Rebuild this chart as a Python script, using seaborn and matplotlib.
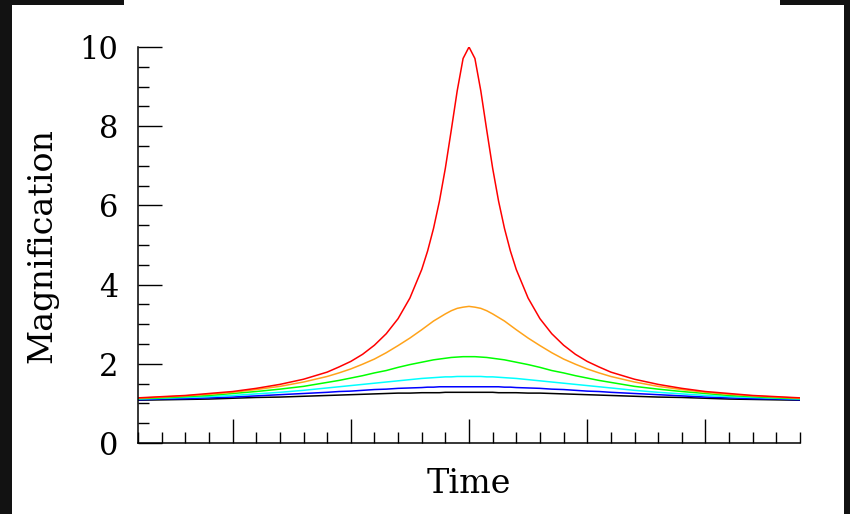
import pandas as pd
import matplotlib
matplotlib.use("Agg")
import matplotlib.pyplot as plt
from matplotlib.patches import Rectangle
from matplotlib.ticker import MultipleLocator
import seaborn as sns

# =========================
# Data
# =========================
time = [-14, -13, -12, -11, -10, -9, -8, -7, -6, -5.5, -5, -4.5, -4, -3.5, -3, -2.5,
        -2, -1.75, -1.5, -1.25, -1, -0.75, -0.5, -0.25, 0, 0.25, 0.5, 0.75, 1, 1.25,
        1.5, 1.75, 2, 2.5, 3, 3.5, 4, 4.5, 5, 5.5, 6, 7, 8, 9, 10, 11, 12, 13, 14]

mag_black = [1.08, 1.09, 1.10, 1.11, 1.13, 1.15, 1.16, 1.18, 1.20, 1.21, 1.22, 1.23,
             1.24, 1.25, 1.26, 1.26, 1.27, 1.27, 1.27, 1.27, 1.28, 1.28, 1.28, 1.28,
             1.28, 1.28, 1.28, 1.28, 1.28, 1.27, 1.27, 1.27, 1.27, 1.26, 1.26, 1.25,
             1.24, 1.23, 1.22, 1.21, 1.20, 1.18, 1.16, 1.15, 1.13, 1.11, 1.10, 1.09, 1.08]
mag_blue = [1.09, 1.11, 1.12, 1.14, 1.16, 1.19, 1.22, 1.25, 1.28, 1.30, 1.31, 1.33,
            1.35, 1.36, 1.38, 1.39, 1.40, 1.41, 1.41, 1.42, 1.42, 1.42, 1.42, 1.42,
            1.42, 1.42, 1.42, 1.42, 1.42, 1.42, 1.41, 1.41, 1.40, 1.39, 1.38, 1.36,
            1.35, 1.33, 1.31, 1.30, 1.28, 1.25, 1.22, 1.19, 1.16, 1.14, 1.12, 1.11, 1.09]
mag_cyan = [1.11, 1.13, 1.15, 1.17, 1.20, 1.24, 1.28, 1.33, 1.39, 1.42, 1.45, 1.48,
            1.51, 1.54, 1.57, 1.60, 1.63, 1.64, 1.65, 1.66, 1.67, 1.67, 1.68, 1.68,
            1.68, 1.68, 1.68, 1.67, 1.67, 1.66, 1.65, 1.64, 1.63, 1.60, 1.57, 1.54,
            1.51, 1.48, 1.45, 1.42, 1.39, 1.33, 1.28, 1.24, 1.20, 1.17, 1.15, 1.13, 1.11]
mag_green = [1.12, 1.14, 1.17, 1.20, 1.25, 1.30, 1.36, 1.43, 1.53, 1.58, 1.64, 1.70,
             1.77, 1.83, 1.91, 1.98, 2.04, 2.07, 2.10, 2.12, 2.14, 2.16, 2.17, 2.18,
             2.18, 2.18, 2.17, 2.16, 2.14, 2.12, 2.10, 2.07, 2.04, 1.98, 1.91, 1.83,
             1.77, 1.70, 1.64, 1.58, 1.53, 1.43, 1.36, 1.30, 1.25, 1.20, 1.17, 1.14, 1.12]
mag_orange = [1.13, 1.16, 1.19, 1.23, 1.28, 1.35, 1.43, 1.54, 1.68, 1.77, 1.87, 1.99,
              2.12, 2.28, 2.46, 2.65, 2.86, 2.97, 3.08, 3.17, 3.26, 3.34, 3.40, 3.43,
              3.45, 3.43, 3.40, 3.34, 3.26, 3.17, 3.08, 2.97, 2.86, 2.65, 2.46, 2.28,
              2.12, 1.99, 1.87, 1.77, 1.68, 1.54, 1.43, 1.35, 1.28, 1.23, 1.19, 1.16, 1.13]
mag_red = [1.14, 1.17, 1.20, 1.25, 1.30, 1.38, 1.48, 1.61, 1.79, 1.92, 2.06, 2.24,
           2.47, 2.76, 3.14, 3.66, 4.38, 4.85, 5.42, 6.11, 6.94, 7.90, 8.89, 9.71,
           10.0, 9.71, 8.89, 7.90, 6.94, 6.11, 5.42, 4.85, 4.38, 3.66, 3.14, 2.76,
           2.47, 2.24, 2.06, 1.92, 1.79, 1.61, 1.48, 1.38, 1.30, 1.25, 1.20, 1.17, 1.14]

series = {
    "black": mag_black, "blue": mag_blue, "cyan": mag_cyan,
    "green": mag_green, "orange": mag_orange, "red": mag_red,
}
palette = {
    "black": "#000000", "blue": "#0000ff", "cyan": "#00ffff",
    "green": "#00ff00", "orange": "#ffa31a", "red": "#ff0000",
}

df = pd.concat(
    [pd.DataFrame({"Time": time, "Magnification": vals, "curve": name})
     for name, vals in series.items()],
    ignore_index=True,
)

# =========================
# Plot
# =========================
sns.set_style("ticks")
plt.rcParams["font.family"] = ["DejaVu Serif"]
plt.rcParams["text.color"] = "black"

W, H = 850, 514
fig = plt.figure(figsize=(W / 100, H / 100), dpi=100, facecolor="#121212")
# white page over the dark frame
fig.add_artist(Rectangle((12 / W, 0), 832 / W, 509 / H, transform=fig.transFigure,
                         facecolor="white", edgecolor="none", zorder=-10))
fig.add_artist(Rectangle((124 / W, 0), 656 / W, 1, transform=fig.transFigure,
                         facecolor="white", edgecolor="none", zorder=-10))

ax = fig.add_axes([138 / W, 71 / H, 662 / W, 396 / H])
ax.set_facecolor("white")

sns.lineplot(data=df, x="Time", y="Magnification", hue="curve",
             hue_order=list(series.keys()), palette=palette,
             linewidth=1.1, legend=False, ax=ax)

ax.set_xlim(-14, 14)
ax.set_ylim(0, 10)
ax.xaxis.set_major_locator(MultipleLocator(5))
ax.xaxis.set_minor_locator(MultipleLocator(1))
ax.yaxis.set_major_locator(MultipleLocator(2))
ax.yaxis.set_minor_locator(MultipleLocator(0.5))
ax.tick_params(which="both", direction="in", color="black", width=1.0)
ax.tick_params(which="major", length=17)
ax.tick_params(which="minor", length=8)
ax.tick_params(axis="x", labelbottom=False)
ax.tick_params(axis="y", labelsize=22, pad=14, labelcolor="black")

sns.despine(ax=ax)
for side in ("left", "bottom"):
    ax.spines[side].set_linewidth(1.1)
    ax.spines[side].set_color("black")

ax.set_xlabel("")
ax.set_ylabel("")
fig.text(42 / W, 1 - 246 / H, "Magnification", rotation=90,
         ha="center", va="center", fontsize=24, color="black")
fig.text(469 / W, 1 - 484 / H, "Time", ha="center", va="center",
         fontsize=24, color="black")

fig.savefig("out.png", dpi=100, facecolor=fig.get_facecolor())
